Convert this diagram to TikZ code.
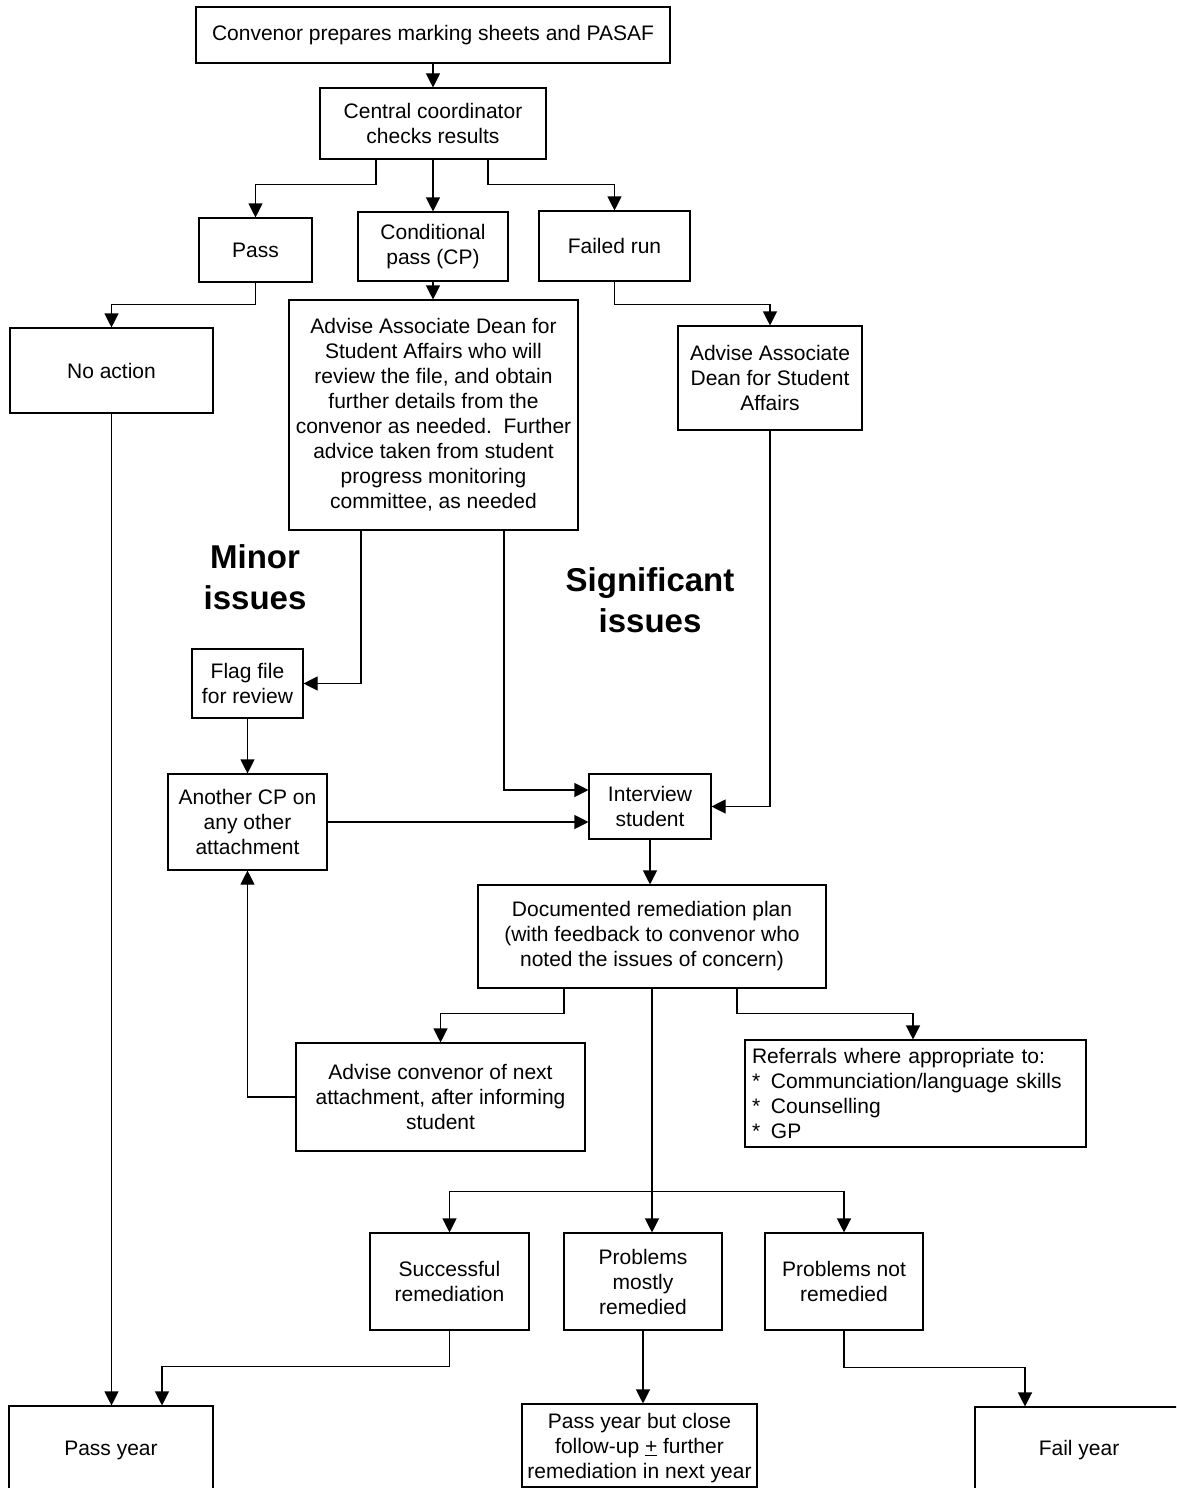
\documentclass[tikz,border=0pt]{standalone}
\usepackage{fontspec}
\setmainfont{Liberation Sans}
\usetikzlibrary{arrows.meta}
\tikzset{
  bx/.style={draw, line width=1.1pt, align=center, inner sep=0pt, font=\fontsize{21}{25}\selectfont},
  arr/.style={line width=1.1pt, -{Triangle[length=14pt,width=14pt]}},
  ln/.style={line width=1.1pt},
  big/.style={align=center, inner sep=0pt, font=\fontsize{33}{41}\selectfont\bfseries}
}
\begin{document}
\begin{tikzpicture}[x=1pt,y=-1pt]
\useasboundingbox (0,0) rectangle (1176,1488);
\fill[white] (0,0) rectangle (1176,1488);
\clip (0,0) rectangle (1176,1488);

\node[bx, minimum width=474pt, minimum height=56pt] (top) at (433,35) {Convenor prepares marking sheets and PASAF};
\node[bx, minimum width=226pt, minimum height=71pt] (cc) at (433,123.5) {Central coordinator\\checks results};
\node[bx, minimum width=113pt, minimum height=64pt] (pass) at (255.5,250) {Pass};
\node[bx, minimum width=150pt, minimum height=69pt] (cp) at (433,246.5) {Conditional\\pass (CP)};
\node[bx, minimum width=151pt, minimum height=70pt] (fail) at (614.5,246) {Failed run};
\node[bx, minimum width=203pt, minimum height=85pt] (noact) at (111.5,370.5) {No action};
\node[bx, minimum width=289pt, minimum height=230pt] (adv1) at (433.5,415) {Advise Associate Dean for\\Student Affairs who will\\review the file, and obtain\\further details from the\\convenor as needed.\ \ Further\\advice taken from student\\progress monitoring\\committee, as needed};
\node[bx, minimum width=184pt, minimum height=104pt] (adv2) at (770,378) {Advise Associate\\Dean for Student\\Affairs};
\node[bx, minimum width=111pt, minimum height=69pt] (flag) at (247.5,683.5) {Flag file\\for review};
\node[bx, minimum width=159pt, minimum height=96pt] (another) at (247.5,822) {Another CP on\\any other\\attachment};
\node[bx, minimum width=122pt, minimum height=65pt] (interview) at (650,806.5) {Interview\\student};
\node[bx, minimum width=348pt, minimum height=103pt] (doc) at (652,936.5) {Documented remediation plan\\(with feedback to convenor who\\noted the issues of concern)};
\node[bx, minimum width=289pt, minimum height=108pt] (advc) at (440.5,1097) {Advise convenor of next\\attachment, after informing\\student};
\node[bx, align=left, text width=327pt, inner xsep=7pt, minimum height=107pt] (ref) at (915.5,1093.5) {Referrals where appropriate to:\\\makebox[19pt][l]{*}Communciation/language skills\\\makebox[19pt][l]{*}Counselling\\\makebox[19pt][l]{*}GP};
\node[bx, minimum width=159pt, minimum height=97pt] (succ) at (449.5,1281.5) {Successful\\remediation};
\node[bx, minimum width=158pt, minimum height=97pt] (pmr) at (643,1281.5) {Problems\\mostly\\remedied};
\node[bx, minimum width=158pt, minimum height=97pt] (pnr) at (844,1281.5) {Problems not\\remedied};
\node[bx, minimum width=204pt, minimum height=88pt] (passyear) at (111,1450) {Pass year};
\node[bx, minimum width=235pt, minimum height=83pt] (pyc) at (639.5,1445.5) {\raisebox{-3pt}[\height][\depth]{\begin{tabular}{@{}c@{}}Pass year but close\\follow-up \underline{+} further\\remediation in next year\end{tabular}}};
\node[bx, minimum width=208pt, minimum height=87pt] (failyear) at (1079,1450.5) {Fail year};

\node[big] (minor) at (255,577) {Minor\\issues};
\node[big] (signif) at (650,600) {Significant\\issues};

% connectors
\draw[arr] (top.south) -- (top.south |- cc.north);
\draw[arr] ([xshift=-57pt]cc.south) |- ([yshift=33pt]pass.north) -- (pass.north);
\draw[arr] (cc.south) -- (cc.south |- cp.north);
\draw[arr] ([xshift=55pt]cc.south) |- ([yshift=26pt]fail.north) -- (fail.north);
\draw[arr] (pass.south) |- ([yshift=23pt]noact.north) -- (noact.north);
\draw[arr] (cp.south) -- (cp.south |- adv1.north);
\draw[arr] (fail.south) |- ([yshift=21pt]adv2.north) -- (adv2.north);
\draw[arr] ([xshift=-72.5pt]adv1.south) |- (flag.east);
\draw[arr] ([xshift=70.5pt]adv1.south) |- ([yshift=16.5pt]interview.west);
\draw[arr] (flag.south) -- (another.north);
\draw[arr] (another.east) -- (another.east -| interview.west);
\draw[arr] (adv2.south) |- (interview.east);
\draw[arr] (interview.south) -- (interview.south |- doc.north);
\draw[arr] ([xshift=-88pt]doc.south) |- ([yshift=29pt]advc.north) -- (advc.north);
\draw[arr] ([xshift=85pt]doc.south) |- ([xshift=-2.5pt,yshift=26pt]ref.north) -- ([xshift=-2.5pt]ref.north);
\draw[arr] (doc.south) -- (doc.south |- pmr.north);
\draw[ln] ([yshift=41pt]succ.north) -- ([yshift=41pt]pnr.north);
\draw[arr] ([yshift=41pt]succ.north) -- (succ.north);
\draw[arr] ([yshift=41pt]pnr.north) -- (pnr.north);
\draw[arr] (advc.west) -| (another.south);
\draw[arr] (noact.south) -- (noact.south |- passyear.north);
\draw[arr] (succ.south) |- ([xshift=51pt,yshift=39pt]passyear.north) -- ([xshift=51pt]passyear.north);
\draw[arr] (pmr.south) -- (pmr.south |- pyc.north);
\draw[arr] (pnr.south) |- ([xshift=-54pt,yshift=39pt]failyear.north) -- ([xshift=-54pt]failyear.north);
\end{tikzpicture}
\end{document}
